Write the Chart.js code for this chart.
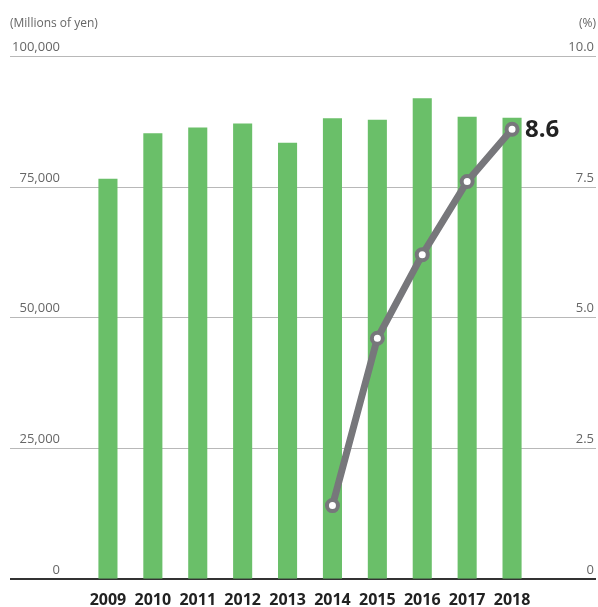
<!DOCTYPE html>
<html>
<head>
<meta charset="utf-8">
<script src="https://cdn.jsdelivr.net/npm/chart.js@4"></script>
<style>
  html, body { margin: 0; padding: 0; background: #fff; }
  #wrap { width: 598px; height: 607px; position: relative; }
</style>
</head>
<body>
<div id="wrap"><canvas id="chart"></canvas></div>
<script>
const years = ['2009', '2010', '2011', '2012', '2013', '2014', '2015', '2016', '2017', '2018'];
const sales = [76500, 85200, 86300, 87100, 83400, 88100, 87800, 91900, 88400, 88200];
const ratio = [null, null, null, null, null, 1.4, 4.6, 6.2, 7.6, 8.6];
const leftTicks = [0, 25000, 50000, 75000, 100000];
const rightTicks = [0, 2.5, 5.0, 7.5, 10.0];
const leftUnit = '(Millions of yen)';
const rightUnit = '(%)';

const GRID_X0 = 10, GRID_X1 = 596;
const labelFont = '13px "Open Sans", sans-serif';

// gridlines, tick labels and units drawn across the full width
const framePlugin = {
  id: 'frame',
  beforeDatasetsDraw(chart) {
    const ctx = chart.ctx;
    const yL = chart.scales.y;
    const yR = chart.scales.y1;
    ctx.save();
    leftTicks.forEach(v => {
      const py = Math.round(yL.getPixelForValue(v));
      ctx.beginPath();
      if (v === 0) {
        ctx.strokeStyle = '#333';
        ctx.lineWidth = 2;
        ctx.moveTo(GRID_X0, py);
        ctx.lineTo(GRID_X1, py);
      } else {
        ctx.strokeStyle = '#b8b8b8';
        ctx.lineWidth = 1;
        ctx.moveTo(GRID_X0, py + 0.5);
        ctx.lineTo(GRID_X1, py + 0.5);
      }
      ctx.stroke();
    });
    ctx.font = labelFont;
    ctx.fillStyle = '#666';
    ctx.textBaseline = 'alphabetic';
    ctx.textAlign = 'right';
    leftTicks.forEach(v => {
      const py = yL.getPixelForValue(v);
      ctx.fillText(v.toLocaleString('en-US'), 60, py - 5);
    });
    rightTicks.forEach(v => {
      const py = yR.getPixelForValue(v);
      ctx.fillText(v === 0 ? '0' : v.toFixed(1), 594, py - 5);
    });
    ctx.font = '12px "Open Sans", sans-serif';
    ctx.textAlign = 'left';
    ctx.fillText(leftUnit, 10, 27);
    ctx.textAlign = 'right';
    ctx.fillText(rightUnit, 596, 27);
    ctx.restore();
  },
  afterDatasetsDraw(chart) {
    // value label next to the last point
    const meta = chart.getDatasetMeta(1);
    const last = ratio.length - 1;
    const pt = meta.data[last];
    const ctx = chart.ctx;
    ctx.save();
    ctx.font = 'bold 24px "Open Sans", sans-serif';
    ctx.fillStyle = '#222';
    ctx.textAlign = 'left';
    ctx.textBaseline = 'middle';
    ctx.fillText(ratio[last].toFixed(1), pt.x + 13, pt.y + 1);
    ctx.restore();
  }
};

new Chart(document.getElementById('chart'), {
  data: {
    labels: years,
    datasets: [
      {
        type: 'bar',
        data: sales,
        yAxisID: 'y',
        backgroundColor: '#6abf69',
        barPercentage: 0.85,
        categoryPercentage: 0.5,
        order: 2
      },
      {
        type: 'line',
        data: ratio,
        yAxisID: 'y1',
        borderColor: '#77777b',
        borderWidth: 7,
        pointRadius: 5.5,
        pointBorderWidth: 4,
        pointBackgroundColor: '#fff',
        pointBorderColor: '#77777b',
        spanGaps: false,
        tension: 0,
        order: 1
      }
    ]
  },
  options: {
    responsive: true,
    maintainAspectRatio: false,
    animation: false,
    layout: { padding: { top: 56, left: 85.5, right: 63.5, bottom: -15 } },
    plugins: {
      legend: { display: false },
      tooltip: { enabled: false }
    },
    scales: {
      x: {
        grid: { display: false, drawTicks: false, tickLength: 0 },
        border: { display: false },
        ticks: {
          padding: 12,
          color: '#222',
          font: { family: '"Open Sans", sans-serif', size: 16, weight: 'bold' }
        }
      },
      y: {
        display: false,
        min: 0,
        max: 100000
      },
      y1: {
        display: false,
        position: 'right',
        min: 0,
        max: 10
      }
    }
  },
  plugins: [framePlugin]
});
</script>
</body>
</html>
